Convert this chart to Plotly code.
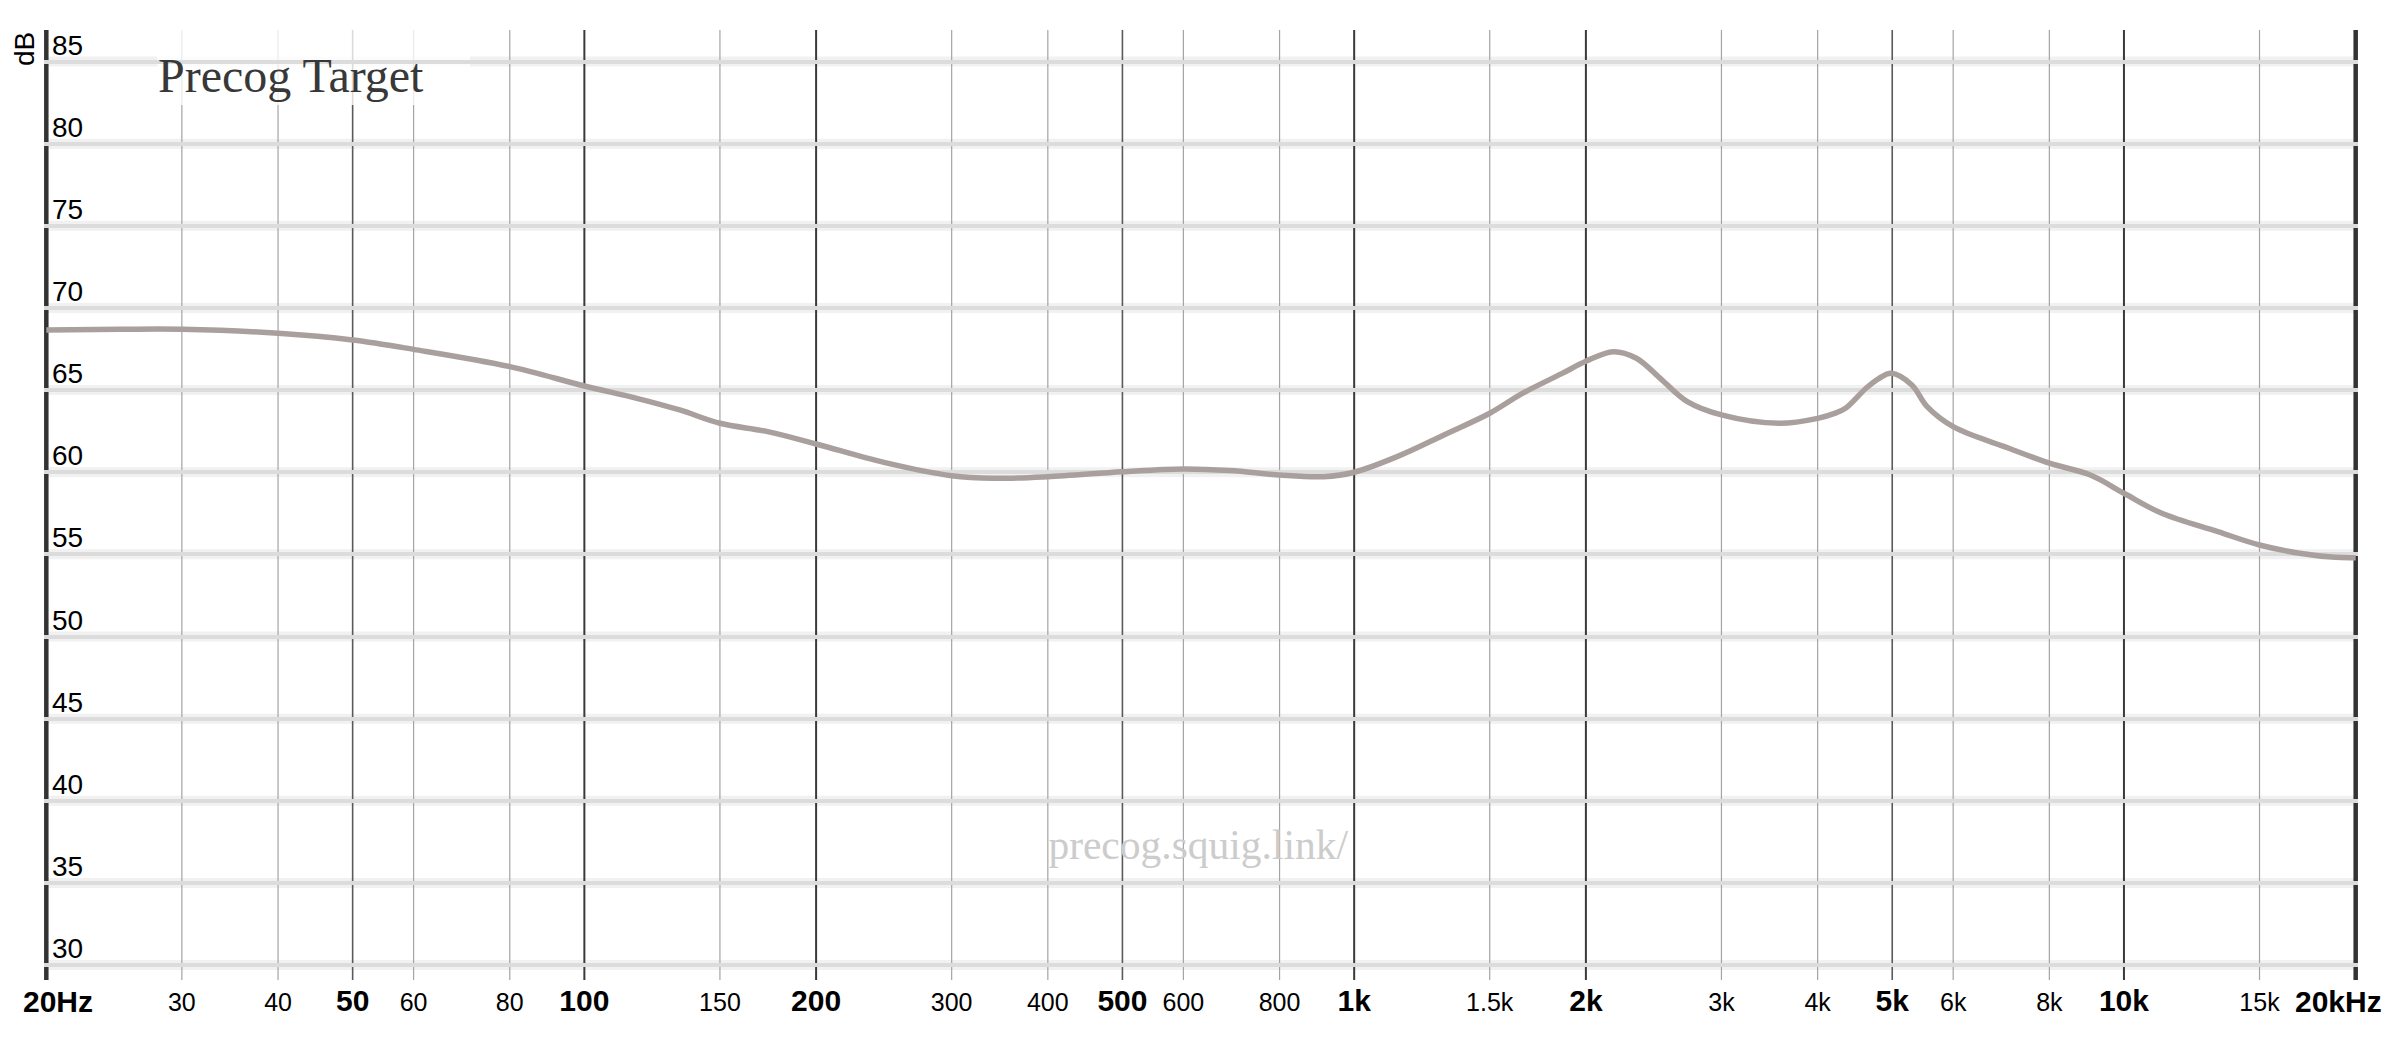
import math
import plotly.graph_objects as go

# ---- data ----
freq_hz = [20, 25, 30, 40, 50, 60, 80, 100, 117, 133, 150, 173, 200, 245, 300, 340,
           400, 500, 600, 690, 800, 913, 1000, 1137, 1308, 1500, 1654, 1860, 2000,
           2170, 2326, 2510, 2709, 3000, 3566, 4000, 4217, 4347, 4623, 4802, 4985,
           5302, 5550, 6000, 7087, 8000, 9045, 10000, 11200, 13245, 15000, 16910,
           18820, 20000]
spl_db = [68.66, 68.7, 68.7, 68.46, 68.05, 67.48, 66.43, 65.25, 64.5, 63.79, 62.98,
          62.47, 61.72, 60.6, 59.79, 59.63, 59.73, 60.03, 60.2, 60.1, 59.83, 59.73,
          60.0, 60.95, 62.27, 63.59, 64.8, 66.0, 66.75, 67.34, 66.94, 65.62, 64.3,
          63.49, 62.98, 63.28, 63.6, 63.89, 65.11, 65.7, 66.02, 65.31, 63.99, 62.77,
          61.46, 60.55, 59.83, 58.72, 57.5, 56.38, 55.57, 55.07, 54.82, 54.8]

x_tick_vals = [20, 30, 40, 50, 60, 80, 100, 150, 200, 300, 400, 500, 600, 800,
               1000, 1500, 2000, 3000, 4000, 5000, 6000, 8000, 10000, 15000, 20000]
x_tick_labels = ["20Hz", "30", "40", "50", "60", "80", "100", "150", "200", "300",
                 "400", "500", "600", "800", "1k", "1.5k", "2k", "3k", "4k", "5k",
                 "6k", "8k", "10k", "15k", "20kHz"]
x_major = [20, 50, 100, 200, 500, 1000, 2000, 5000, 10000, 20000]
x_dark = [100, 200, 1000, 2000, 10000]
y_tick_vals = [30, 35, 40, 45, 50, 55, 60, 65, 70, 75, 80, 85]
y_tick_labels = ["30", "35", "40", "45", "50", "55", "60", "65", "70", "75", "80", "85"]

title_text = "Precog Target"
watermark_text = "precog.squig.link/"
y_label = "dB"

# ---- styling ----
W, H = 2400, 1038
ML, MR, MT, MB = 44, 42, 30, 58
SANS = "Liberation Sans, Arial, Helvetica, sans-serif"
SERIF = "Liberation Serif, Times New Roman, serif"
pw = W - ML - MR
ph = H - MT - MB
LABEL_Y = (H - MB - 1002) / ph   # paper y of x-axis label row centre

end_vals = (x_tick_vals[0], x_tick_vals[-1])
ticktext = []
for v, lab in zip(x_tick_vals, x_tick_labels):
    if v in end_vals:
        ticktext.append("")          # drawn as annotations so they stay inside the page
    elif v in x_major:
        ticktext.append("<b>" + lab + "</b>")
    else:
        ticktext.append('<span style="font-size:25px">' + lab + "</span>")

fig = go.Figure()
fig.add_trace(go.Scatter(
    x=freq_hz, y=spl_db, mode="lines",
    line=dict(color="#a9a09d", width=5.5, shape="spline", smoothing=1),
    hoverinfo="skip", showlegend=False,
))

shapes = []
# soft halo for horizontal grid lines
for yv in y_tick_vals:
    shapes.append(dict(type="line", xref="paper", yref="y", x0=0, x1=1, y0=yv, y1=yv,
                       layer="below", line=dict(color="#f1f1f1", width=10)))
# vertical grid lines
for v in x_tick_vals:
    if v in end_vals:
        col, wid = "#333333", 4.5
    elif v in x_dark:
        col, wid = "#3a3a3a", 2
    elif v in x_major:
        col, wid = "#5a5a5a", 1.6
    else:
        col, wid = "#a4a4a4", 1.2
    shapes.append(dict(type="line", xref="x", yref="paper", x0=v, x1=v, y0=0, y1=1,
                       layer="between", line=dict(color=col, width=wid)))
# translucent box behind the title
shapes.append(dict(type="rect", xref="paper", yref="paper",
                   x0=(157 - ML) / pw, x1=(470 - ML) / pw,
                   y0=(H - MB - 105) / ph, y1=1.0,
                   layer="between", line=dict(width=0),
                   fillcolor="rgba(255,255,255,0.78)"))
# watermark (under the grid)
shapes.append(dict(type="rect", xref="paper", yref="paper",
                   x0=0.3988, x1=0.5988, y0=0.107, y1=0.187,
                   layer="below", line=dict(width=0), fillcolor="rgba(0,0,0,0)",
                   label=dict(text=watermark_text, textposition="middle center",
                              font=dict(family=SERIF, size=41.5, color="#cccccc"))))

annotations = [
    dict(text=y_label, xref="paper", yref="paper",
         x=(24 - ML) / pw, y=(H - MB - 49) / ph, xanchor="center", yanchor="middle",
         textangle=-90, showarrow=False,
         font=dict(family=SANS, size=28, color="#000000")),
    dict(text=title_text, xref="paper", yref="paper",
         x=(156 - ML) / pw, y=(H - MB - 75) / ph, xanchor="left", yanchor="middle",
         showarrow=False,
         font=dict(family=SERIF, size=48, color="#383838")),
    # end labels of the frequency axis
    dict(text="<b>" + x_tick_labels[0] + "</b>", xref="x", yref="paper",
         x=math.log10(x_tick_vals[0]), y=LABEL_Y, xanchor="left", yanchor="middle",
         xshift=-25, showarrow=False,
         font=dict(family=SANS, size=30, color="#000000")),
    dict(text="<b>" + x_tick_labels[-1] + "</b>", xref="x", yref="paper",
         x=math.log10(x_tick_vals[-1]), y=LABEL_Y, xanchor="right", yanchor="middle",
         xshift=28, showarrow=False,
         font=dict(family=SANS, size=30, color="#000000")),
]
# y tick labels placed inside the plot, just above each grid line
for yv, lab in zip(y_tick_vals, y_tick_labels):
    annotations.append(dict(text=lab, xref="paper", yref="y", x=0, y=yv,
                            xanchor="left", yanchor="bottom", xshift=6, yshift=-1,
                            showarrow=False,
                            font=dict(family=SANS, size=28, color="#000000")))

fig.update_layout(
    width=W, height=H, autosize=False,
    margin=dict(l=ML, r=MR, t=MT, b=MB, pad=0),
    paper_bgcolor="white", plot_bgcolor="white",
    showlegend=False,
    hovermode=False,
    shapes=shapes,
    annotations=annotations,
    xaxis=dict(
        type="log",
        range=[math.log10(20) - 0.003, math.log10(20000) + 0.003],
        tickmode="array", tickvals=x_tick_vals, ticktext=ticktext,
        showgrid=False, zeroline=False, showline=False, ticks="",
        tickfont=dict(family=SANS, size=30, color="#000000"),
        tickangle=0, automargin=False,
    ),
    yaxis=dict(
        range=[29.09, 86.92],
        tickmode="array", tickvals=y_tick_vals,
        showticklabels=False,
        showgrid=True, gridcolor="#dcdcdc", gridwidth=4,
        zeroline=False, showline=False, ticks="", automargin=False,
    ),
)

fig.write_html(
    "out.html",
    config={"displayModeBar": False},
    post_script="document.body.style.margin='0px';document.body.style.overflow='hidden';",
)
